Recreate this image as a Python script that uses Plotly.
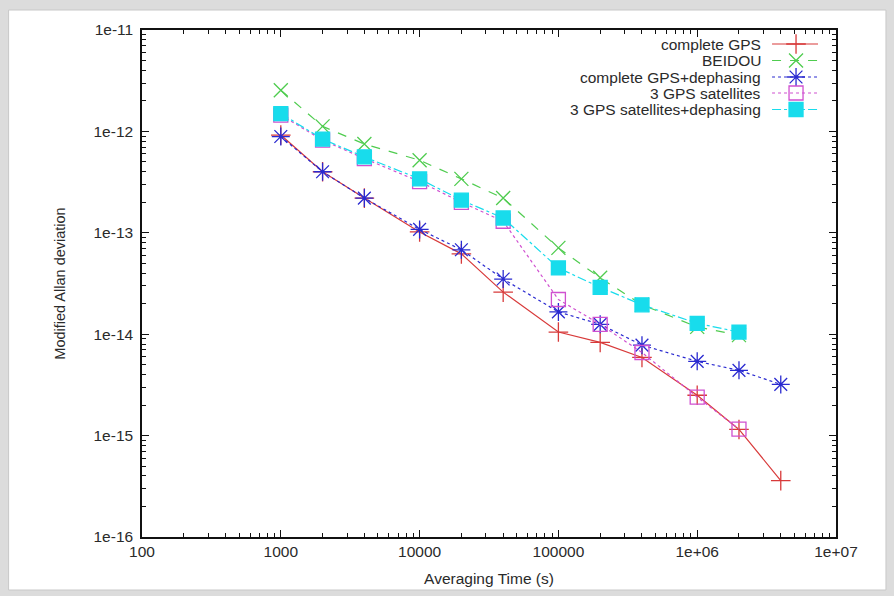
import plotly.graph_objects as go

# ---------------- data ----------------
tau = [1000, 2000, 4000, 10000, 20000, 40000, 100000, 200000, 400000, 1e6, 2e6, 4e6]

gps_complete = [9.2e-13, 4.0e-13, 2.2e-13, 1.02e-13, 6.2e-14, 2.6e-14, 1.05e-14, 8.3e-15, 5.9e-15, 2.5e-15, 1.15e-15, 3.6e-16]
beidou = [2.55e-12, 1.12e-12, 7.5e-13, 5.2e-13, 3.4e-13, 2.2e-13, 7.1e-14, 3.6e-14, 1.95e-14, 1.18e-14, 9.8e-15]
gps_dephasing = [8.9e-13, 4.0e-13, 2.2e-13, 1.08e-13, 6.8e-14, 3.5e-14, 1.66e-14, 1.25e-14, 7.8e-15, 5.4e-15, 4.4e-15, 3.2e-15]
gps3 = [1.45e-12, 8.2e-13, 5.4e-13, 3.2e-13, 2.0e-13, 1.3e-13, 2.2e-14, 1.25e-14, 6.6e-15, 2.4e-15, 1.16e-15]
gps3_dephasing = [1.5e-12, 8.4e-13, 5.6e-13, 3.4e-13, 2.1e-13, 1.4e-13, 4.5e-14, 2.9e-14, 1.95e-14, 1.28e-14, 1.05e-14]

series_names = ["complete GPS", "BEIDOU", "complete GPS+dephasing", "3 GPS satellites", "3 GPS satellites+dephasing"]
series_values = [gps_complete, beidou, gps_dephasing, gps3, gps3_dephasing]

x_tick_vals = [100, 1000, 10000, 100000, 1e6, 1e7]
x_tick_text = ["100", "1000", "10000", "100000", "1e+06", "1e+07"]
y_tick_vals = [1e-16, 1e-15, 1e-14, 1e-13, 1e-12, 1e-11]
y_tick_text = ["1e-16", "1e-15", "1e-14", "1e-13", "1e-12", "1e-11"]

# ---------------- styles ----------------
colors = ["#d83a3a", "#4fcc4f", "#2a2ad0", "#d050d0", "#18dcec"]
dashes = ["solid", "dash", "dot", "dot", "dashdot"]
symbols = ["cross-thin-open", "x-thin-open", "asterisk-open", "square-open", "square"]
msizes = [14, 14, 15, 14, 14]

FONT = "Liberation Sans, Arial, sans-serif"
TXT = "#2a2a2a"

# plot area in pixels
L, R, T, B = 141.5, 836, 30, 537
W, H = 894, 596

fig = go.Figure()

for name, vals, c, d, s, ms in zip(series_names, series_values, colors, dashes, symbols, msizes):
    fig.add_trace(go.Scatter(
        x=tau[:len(vals)], y=vals, name=name, mode="lines+markers",
        line=dict(color=c, width=1.2, dash=d),
        marker=dict(symbol=s, size=ms, color=c,
                    line=dict(color=c, width=1.3)),
        showlegend=False,
    ))

# ---------------- manual gnuplot-style legend ----------------
row_y = [44, 60.5, 77, 93, 109.5]
text_right = 763
samp_x0, samp_x1, samp_mid = 772, 818, 796
for i, (name, c, d, s, ms) in enumerate(zip(series_names, colors, dashes, symbols, msizes)):
    yy = row_y[i]
    fig.add_trace(go.Scatter(
        x=[samp_x0, samp_x1], y=[yy, yy], mode="lines",
        line=dict(color=c, width=1.2, dash=d),
        xaxis="x2", yaxis="y2", showlegend=False, hoverinfo="skip"))
    fig.add_trace(go.Scatter(
        x=[samp_mid], y=[yy], mode="markers",
        marker=dict(symbol=s, size=ms, color=c, line=dict(color=c, width=1.3)),
        xaxis="x2", yaxis="y2", showlegend=False, hoverinfo="skip"))
    fig.add_annotation(x=text_right, y=yy, xref="x2", yref="y2", text=name,
                       showarrow=False, xanchor="right", yanchor="middle",
                       font=dict(family=FONT, size=15.5, color=TXT))

minor_x = [m * 10 ** e for e in range(2, 7) for m in range(2, 10)]
minor_y = [m * 10.0 ** e for e in range(-16, -11) for m in range(2, 10)]

axis_common = dict(
    type="log", showgrid=False, zeroline=False, showline=True,
    linecolor="#111", linewidth=1.5, mirror="ticks", ticks="inside",
    ticklen=7, tickcolor="#111", tickwidth=1, automargin=False,
    tickfont=dict(family=FONT, size=15.5, color=TXT),
)

fig.update_layout(
    width=W, height=H,
    margin=dict(l=L, r=W - R, t=T, b=H - B, autoexpand=False),
    paper_bgcolor="#dcdcdc", plot_bgcolor="white",
    xaxis=dict(axis_common, range=[2, 7], tickvals=x_tick_vals, ticktext=x_tick_text,
               minor=dict(ticks="inside", ticklen=4, tickcolor="#111", tickvals=minor_x),
               title=dict(text="Averaging Time (s)", font=dict(family=FONT, size=15.5, color=TXT), standoff=14)),
    yaxis=dict(axis_common, range=[-16, -11], tickvals=y_tick_vals, ticktext=y_tick_text,
               ticklabelstandoff=4,
               minor=dict(ticks="inside", ticklen=4, tickcolor="#111", tickvals=minor_y),
               title=dict(text="Modified Allan deviation", font=dict(family=FONT, size=14.5, color=TXT), standoff=24)),
    xaxis2=dict(overlaying="x", range=[L, R], visible=False, fixedrange=True),
    yaxis2=dict(overlaying="y", range=[B, T], visible=False, fixedrange=True),
    showlegend=False,
)

# white card with light shadow border
def px(xp):
    return (xp - L) / (R - L)

def py(yp):
    return (B - yp) / (B - T)

fig.add_shape(type="rect", xref="paper", yref="paper", layer="below",
              x0=px(8), x1=px(886), y0=py(590), y1=py(10),
              fillcolor="white", line=dict(color="#c8c8c8", width=1))

fig.write_html("out.html", config={"displayModeBar": False},
               post_script="document.body.style.margin='0px';document.body.style.background='#dcdcdc';")
